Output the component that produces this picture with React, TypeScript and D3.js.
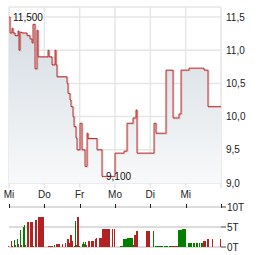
import React from "react";
import * as d3 from "d3";

// Trading days shown on the x axis (0 = first Wednesday)
const dayLabels = ["Mi", "Do", "Fr", "Mo", "Di", "Mi"];
const priceTicks = [9.0, 9.5, 10.0, 10.5, 11.0, 11.5];
const volumeTicks = [0, 5, 10];

// Price series: time in trading days, value in EUR (step series)
const priceTimes = [
  0, 0.028, 0.085, 0.113, 0.17, 0.255, 0.283, 0.311, 0.368, 0.509, 0.594, 0.651,
  0.679, 0.736, 0.792, 0.821, 1.104, 1.132, 1.217, 1.302, 1.33, 1.358, 1.642, 1.67,
  1.726, 1.755, 1.811, 1.84, 1.896, 1.925, 2.009, 2.066, 2.151, 2.208, 2.236, 2.491,
  2.632, 3.0, 3.255, 3.34, 3.509, 3.594, 3.623, 4.104, 4.16, 4.443, 4.642, 4.811,
  4.868, 5.094, 5.519, 5.632, 6.0,
];
const priceValues = [
  11.5, 11.26, 11.33, 11.26, 11.22, 11.29, 11.0, 11.27, 11.26, 11.22, 11.17, 11.11,
  11.39, 10.72, 11.3, 10.9, 11.0, 10.9, 10.78, 11.0, 10.78, 10.6, 10.5, 10.35,
  10.25, 10.15, 10.0, 9.85, 9.68, 9.5, 9.9, 9.5, 9.25, 9.75, 9.67, 9.5,
  9.1, 9.45, 9.48, 9.9, 9.98, 10.1, 9.45, 9.9, 9.75, 10.7, 9.98, 10.04,
  10.7, 10.73, 10.7, 10.15, 10.15,
];

// Volume series: period start/end (trading days), volume in thousands, up = 1 / down = 0
const volStart = [
  -0.035, 0.057, 0.093, 0.142, 0.178, 0.226, 0.263, 0.311, 0.331, 0.396, 0.425, 0.453,
  0.509, 0.594, 0.679, 0.736, 0.821, 1.104, 1.274, 1.322, 1.5, 1.585, 1.633, 1.69,
  1.718, 1.775, 1.84, 1.868, 1.896, 1.925, 1.981, 2.057, 2.086, 2.131, 2.151, 2.188,
  2.236, 2.312, 2.425, 2.454, 2.547, 2.641, 2.745, 2.907, 2.972, 3.142, 3.218, 3.331,
  3.501, 3.538, 3.594, 3.877, 4.084, 4.123, 4.387, 4.528, 4.604, 4.792, 4.887, 5.075,
  5.216, 5.292, 5.369, 5.425, 5.499, 5.595, 5.754, 5.972,
];
const volEnd = [
  0.0, 0.076, 0.11, 0.161, 0.198, 0.246, 0.283, 0.331, 0.359, 0.425, 0.453, 0.481,
  0.566, 0.671, 0.699, 0.792, 0.991, 1.254, 1.302, 1.443, 1.528, 1.613, 1.69, 1.707,
  1.775, 1.811, 1.859, 1.896, 1.916, 1.981, 2.001, 2.086, 2.123, 2.151, 2.188, 2.216,
  2.301, 2.414, 2.454, 2.491, 2.641, 2.737, 2.858, 2.935, 3.0, 3.218, 3.331, 3.501,
  3.538, 3.594, 3.642, 3.991, 4.113, 4.367, 4.509, 4.604, 4.792, 4.887, 5.009, 5.188,
  5.264, 5.34, 5.406, 5.499, 5.567, 5.66, 5.782, 6.0,
];
const volValues = [
  0.25, 1.4, 0.2, 1.7, 0.6, 1.9, 0.8, 4.2, 0.4, 4.9, 5.5, 0.4,
  6.2, 6.2, 0.2, 6.7, 7.5, 0.2, 0.4, 0.7, 0.7, 1.1, 1.9, 1.1,
  3.0, 1.5, 0.2, 6.5, 0.6, 7.5, 0.2, 0.8, 1.3, 0.8, 1.3, 0.6,
  1.5, 1.5, 1.9, 2.2, 2.3, 4.5, 4.5, 4.5, 4.5, 0.2, 1.9, 2.3,
  0.4, 3.0, 3.9, 3.9, 3.9, 0.2, 0.2, 0.2, 0.2, 4.2, 4.5, 1.0,
  1.0, 1.0, 1.0, 1.0, 1.5, 2.0, 2.0, 2.0,
];
const volUp = [
  0, 0, 1, 1, 0, 1, 0, 1, 0, 1, 1, 0,
  0, 0, 1, 0, 0, 0, 1, 0, 0, 0, 0, 0,
  0, 0, 0, 1, 0, 0, 1, 1, 1, 0, 1, 0,
  0, 0, 0, 0, 0, 0, 0, 0, 0, 1, 1, 1,
  0, 0, 0, 0, 1, 1, 1, 1, 0, 1, 1, 1,
  1, 1, 1, 1, 0, 0, 0, 0,
];

const W = 264;
const H = 255;
const FONT = "'Liberation Sans', Arial, sans-serif";
const RED = "#b22222";
const GREEN = "#008000";

export default function App() {
  const x = d3.scaleLinear().domain([0, 6]).range([9, 221]);
  const y = d3.scaleLinear().domain([9, 11.5]).range([183, 17]);
  const yv = d3.scaleLinear().domain([0, 10]).range([247, 207]);

  const pts = priceTimes.map((t, i) => ({ t, v: priceValues[i] }));
  const line = d3
    .line<{ t: number; v: number }>()
    .x((d) => x(d.t))
    .y((d) => y(d.v))
    .curve(d3.curveStepAfter);
  const area = d3
    .area<{ t: number; v: number }>()
    .x((d) => x(d.t))
    .y0(y(9))
    .y1((d) => y(d.v))
    .curve(d3.curveStepAfter);

  const maxIdx = d3.maxIndex(priceValues);
  const minIdx = d3.minIndex(priceValues);
  const fmtLabel = (v: number) => d3.format(".3f")(v).replace(".", ",");
  const fmtTick = (v: number) => d3.format(".1f")(v).replace(".", ",");

  const top = 7;
  const bottom = y(9);

  return (
    <svg
      width={W}
      height={H}
      style={{ position: "absolute", left: 0, top: 0, background: "#fff" }}
      fontFamily={FONT}
    >
      <defs>
        <linearGradient id="fillGrad" gradientUnits="userSpaceOnUse" x1={0} y1={top} x2={0} y2={bottom}>
          <stop offset="0%" stopColor="#d2dae1" />
          <stop offset="100%" stopColor="#f8f9fa" />
        </linearGradient>
      </defs>

      {/* grid */}
      <line x1={x(0)} x2={x(6)} y1={top} y2={top} stroke="#e6e6e6" strokeWidth={1.5} />
      {priceTicks.map((t) => (
        <line key={"h" + t} x1={x(0)} x2={x(6)} y1={y(t)} y2={y(t)} stroke="#e6e6e6" strokeWidth={1.5} />
      ))}
      {d3.range(0, 7).map((d) => (
        <line key={"v" + d} x1={x(d)} x2={x(d)} y1={top} y2={bottom + 5} stroke="#e6e6e6" strokeWidth={1.5} />
      ))}

      {/* price area + line */}
      <path d={area(pts) || ""} fill="url(#fillGrad)" />
      <path d={line(pts) || ""} fill="none" stroke="#dd9a9a" strokeWidth={1.2} strokeOpacity={0.6} transform="translate(0.8,0.6)" />
      <path d={line(pts) || ""} fill="none" stroke="#b33535" strokeWidth={1} />

      {/* high / low labels */}
      <text x={x(priceTimes[maxIdx]) + 4} y={y(priceValues[maxIdx]) + 4} fontSize={10} fill="#111">
        {fmtLabel(priceValues[maxIdx])}
      </text>
      <text x={x(priceTimes[minIdx]) + 4} y={y(priceValues[minIdx]) + 4} fontSize={10} fill="#111">
        {fmtLabel(priceValues[minIdx])}
      </text>

      {/* right price axis labels */}
      {priceTicks.map((t) => (
        <text key={"pl" + t} x={226} y={y(t)} dy="0.35em" fontSize={10} fill="#222">
          {fmtTick(t)}
        </text>
      ))}

      {/* day labels */}
      {dayLabels.map((l, i) => (
        <text key={"d" + i} x={x(i)} y={198} textAnchor="middle" fontSize={10} fill="#222">
          {l}
        </text>
      ))}

      {/* volume grid */}
      {volumeTicks.map((t) => (
        <line key={"vg" + t} x1={x(0)} x2={x(6)} y1={yv(t)} y2={yv(t)} stroke="#d0d0d0" strokeWidth={1.5} />
      ))}
      {d3.range(0, 7).map((d) => (
        <line key={"vt" + d} x1={Math.round(x(d)) + 0.5} x2={Math.round(x(d)) + 0.5} y1={yv(10) - 3} y2={yv(10) + 1} stroke="#222" strokeWidth={1} />
      ))}

      {/* volume bars */}
      {volStart.map((s, i) => {
        const x0 = x(s);
        const w = Math.max(1, x(volEnd[i]) - x0);
        return (
          <rect
            key={"b" + i}
            x={x0}
            y={yv(volValues[i])}
            width={w}
            height={yv(0) - yv(volValues[i])}
            fill={volUp[i] ? GREEN : RED}
            shapeRendering="crispEdges"
          />
        );
      })}

      {/* volume axis */}
      {volumeTicks.map((t) => (
        <g key={"va" + t}>
          <line x1={x(6)} x2={x(6) + 5} y1={yv(t)} y2={yv(t)} stroke="#444" strokeWidth={1} />
          <text x={227} y={yv(t)} dy="0.35em" fontSize={10} fill="#222">
            {t + "T"}
          </text>
        </g>
      ))}
    </svg>
  );
}
